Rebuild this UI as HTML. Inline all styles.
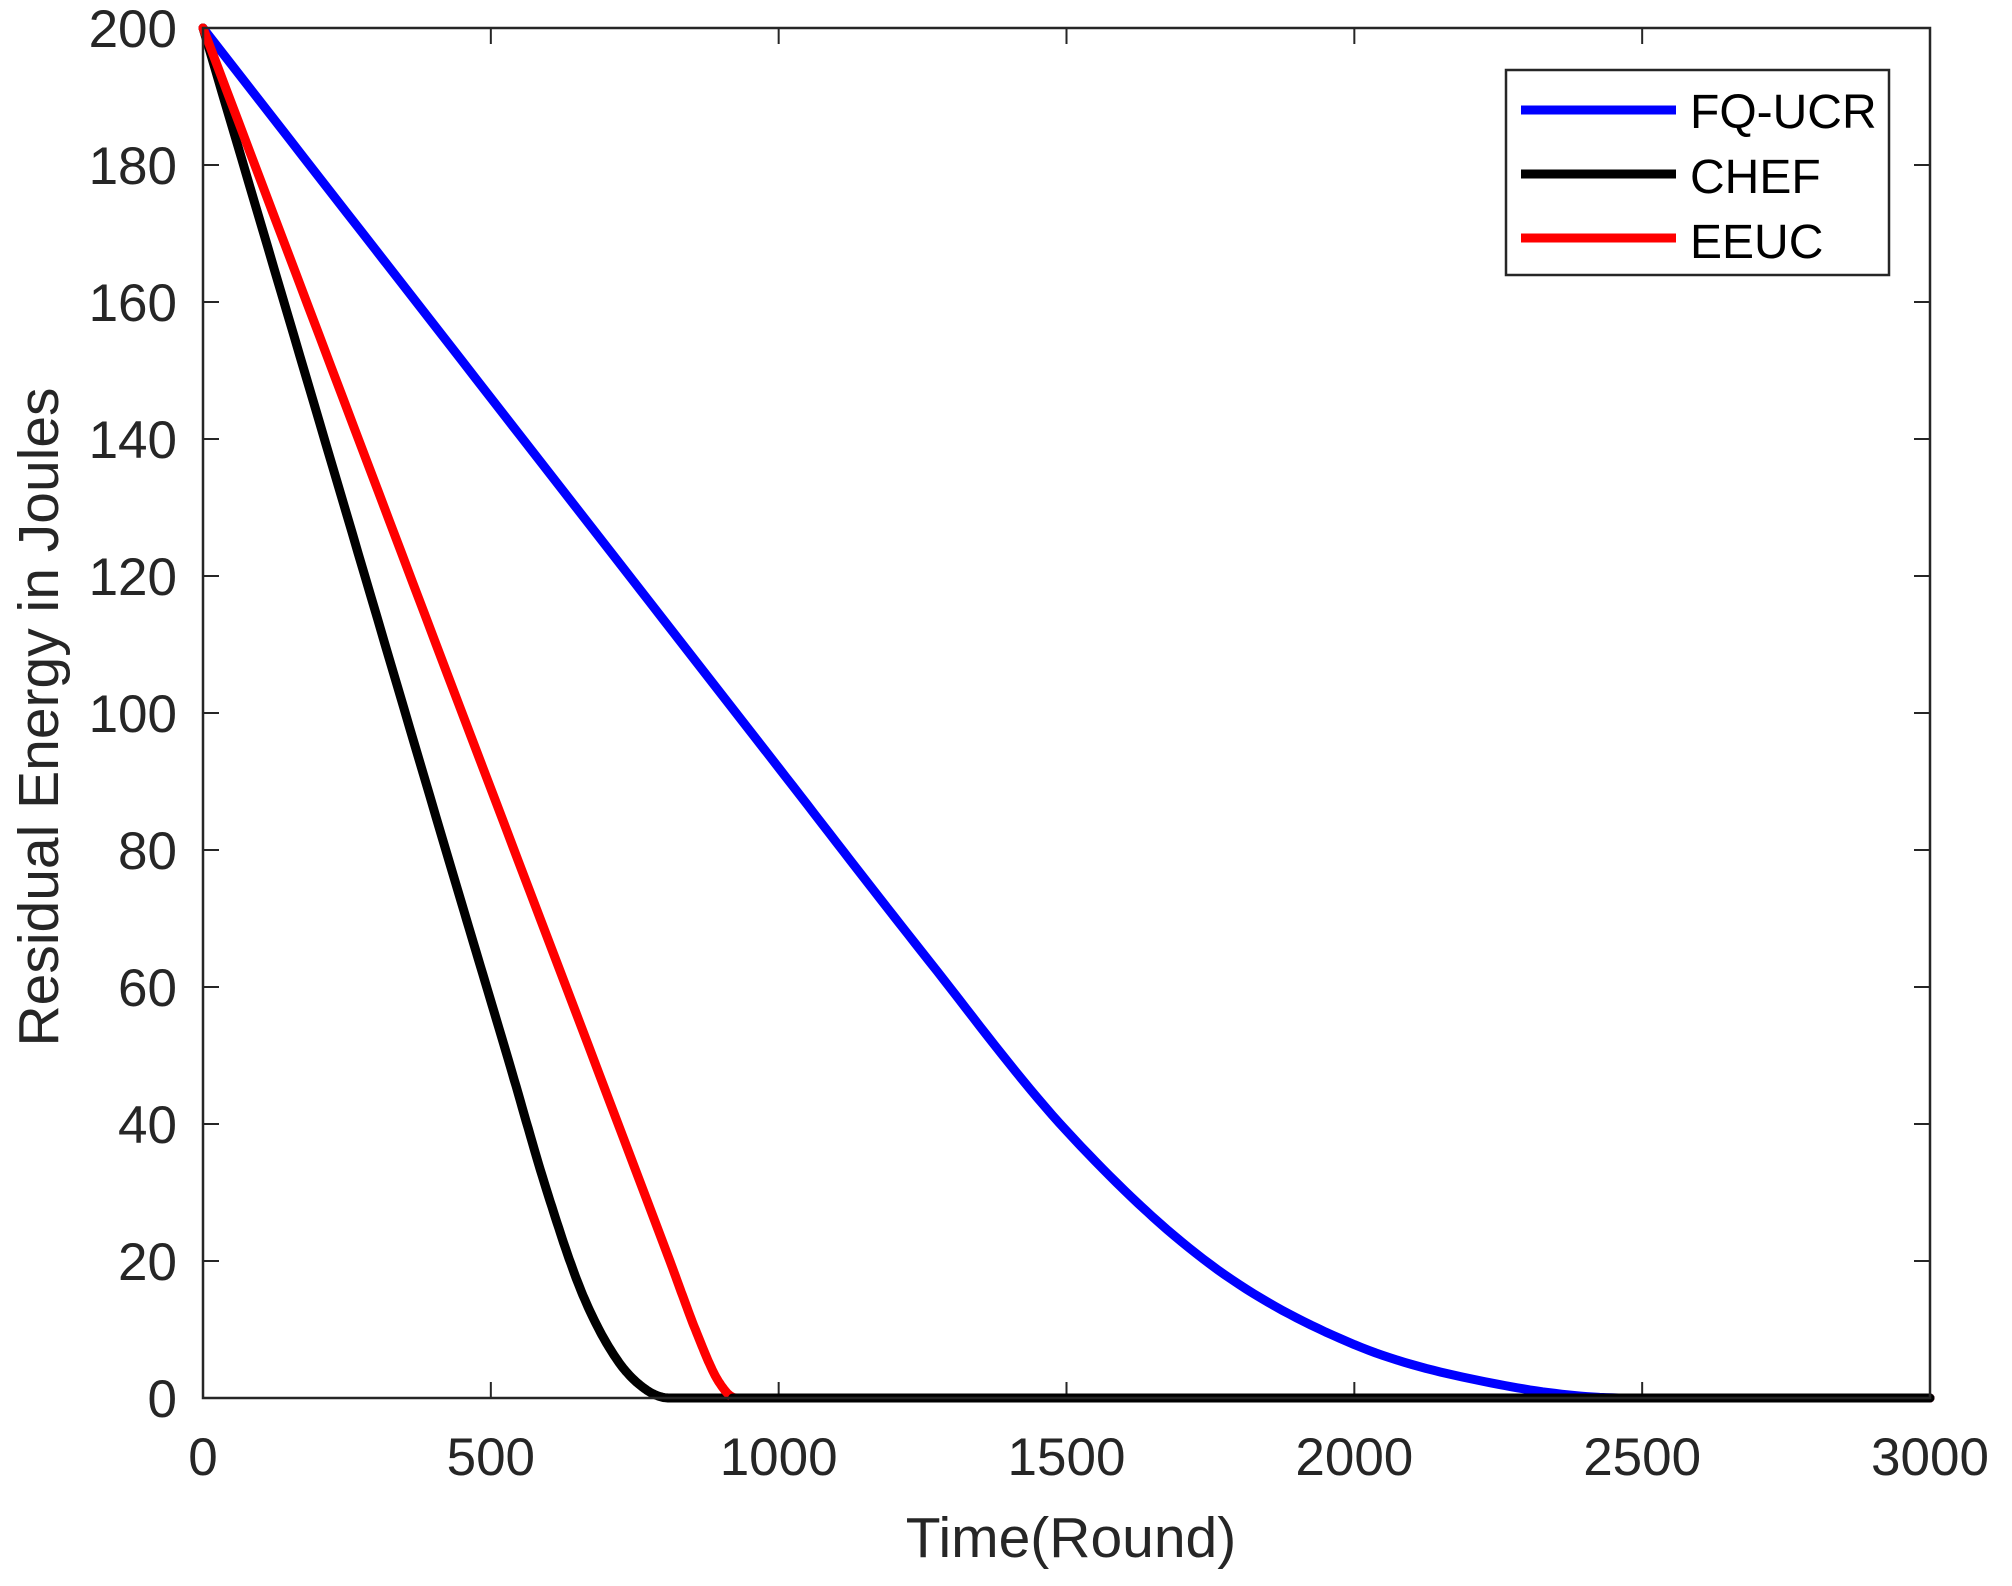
<!DOCTYPE html>
<html><head><meta charset="utf-8"><style>
html,body{margin:0;padding:0;background:#fff;}
svg{display:block;}
text{font-family:"Liberation Sans",Arial,sans-serif;}
</style></head><body>
<svg id="s" width="2012" height="1586" viewBox="0 0 2012 1586" xmlns="http://www.w3.org/2000/svg">
<rect width="2012" height="1586" fill="#fff"/>
<g id="ticks" stroke="#262626" stroke-width="2"></g>
<g id="curves" fill="none" stroke-linejoin="round" stroke-linecap="round"></g>
<rect x="203" y="28" width="1727" height="1370" fill="none" stroke="#262626" stroke-width="2.5"/>
<g id="labels" fill="#262626" font-size="53"></g>
<text x="1071" y="1557" font-size="57" fill="#262626" text-anchor="middle">Time(Round)</text>
<text transform="translate(58,717) rotate(-90)" font-size="57" fill="#262626" text-anchor="middle">Residual Energy in Joules</text>
<rect x="1506" y="70" width="383" height="205" fill="#fff" stroke="#262626" stroke-width="2.5"/>
<line x1="1521" y1="110" x2="1676" y2="110" stroke="#0000ff" stroke-width="9"/>
<line x1="1521" y1="174" x2="1676" y2="174" stroke="#000" stroke-width="9"/>
<line x1="1521" y1="238" x2="1676" y2="238" stroke="#ff0000" stroke-width="9"/>
<text x="1690" y="128" font-size="48" fill="#000">FQ-UCR</text>
<text x="1690" y="193" font-size="48" fill="#000">CHEF</text>
<text x="1690" y="258" font-size="48" fill="#000">EEUC</text>
</svg>
<script>
var L=203,R=1930,T=28,B=1398;
function X(v){return L+v*(R-L)/3000;}
function Y(v){return B-v*(B-T)/200;}
var NS="http://www.w3.org/2000/svg";
function el(p,n,a,t){var e=document.createElementNS(NS,n);for(var k in a)e.setAttribute(k,a[k]);if(t!==undefined)e.textContent=t;p.appendChild(e);return e;}
var tk=document.getElementById('ticks'),lb=document.getElementById('labels');
for(var i=0;i<=6;i++){var x=X(i*500);
 el(tk,'line',{x1:x,y1:B,x2:x,y2:B-16});el(tk,'line',{x1:x,y1:T,x2:x,y2:T+16});
 el(lb,'text',{x:x,y:1475,'text-anchor':'middle'},String(i*500));}
for(var j=0;j<=10;j++){var y=Y(j*20);
 el(tk,'line',{x1:L,y1:y,x2:L+16,y2:y});el(tk,'line',{x1:R,y1:y,x2:R-16,y2:y});
 el(lb,'text',{x:177,y:y+19,'text-anchor':'end'},String(j*20));}
function mono(pts){var n=pts.length,xs=pts.map(p=>p[0]),ys=pts.map(p=>p[1]),d=[],m=[];
 for(var i=0;i<n-1;i++)d.push((ys[i+1]-ys[i])/(xs[i+1]-xs[i]));
 m[0]=d[0];m[n-1]=d[n-2];
 for(i=1;i<n-1;i++){m[i]=(d[i-1]*d[i]<=0)?0:(d[i-1]+d[i])/2;}
 for(i=0;i<n-1;i++){if(d[i]==0){m[i]=0;m[i+1]=0;continue;}var a=m[i]/d[i],b=m[i+1]/d[i],s=a*a+b*b;if(s>9){var t=3/Math.sqrt(s);m[i]=t*a*d[i];m[i+1]=t*b*d[i];}}
 var out=[];for(i=0;i<n-1;i++){var h=xs[i+1]-xs[i];for(var k=0;k<20;k++){var t=k/20,t2=t*t,t3=t2*t;
  var v=(2*t3-3*t2+1)*ys[i]+(t3-2*t2+t)*h*m[i]+(-2*t3+3*t2)*ys[i+1]+(t3-t2)*h*m[i+1];out.push([xs[i]+t*h,v]);}}
 out.push([xs[n-1],ys[n-1]]);
 return 'M'+out.map(p=>X(p[0]).toFixed(1)+','+Y(Math.max(0,p[1])).toFixed(1)).join('L');}
var cg=document.getElementById('curves');
var blue=[[0,200],[500,146],[1000,92],[1250,65],[1500,39],[1750,19.5],[2000,7.8],[2250,2],[2470,0],[3000,0]];
var black=[[0,200],[225,136],[450,72],[530,49.5],[600,29.5],[660,15],[720,5.5],[770,1.2],[810,0],[3000,0]];
var red=[[0,200],[405,110],[811,20],[860,9],[895,2.5],[926,0],[3000,0]];
el(cg,'path',{d:mono(blue),stroke:'#0000ff','stroke-width':9});
el(cg,'path',{d:mono(black),stroke:'#000','stroke-width':9});
el(cg,'path',{d:mono(red),stroke:'#ff0000','stroke-width':9});
el(cg,'line',{x1:X(920),y1:B,x2:X(3000),y2:B,stroke:'#000','stroke-width':9});
</script>
</body></html>
